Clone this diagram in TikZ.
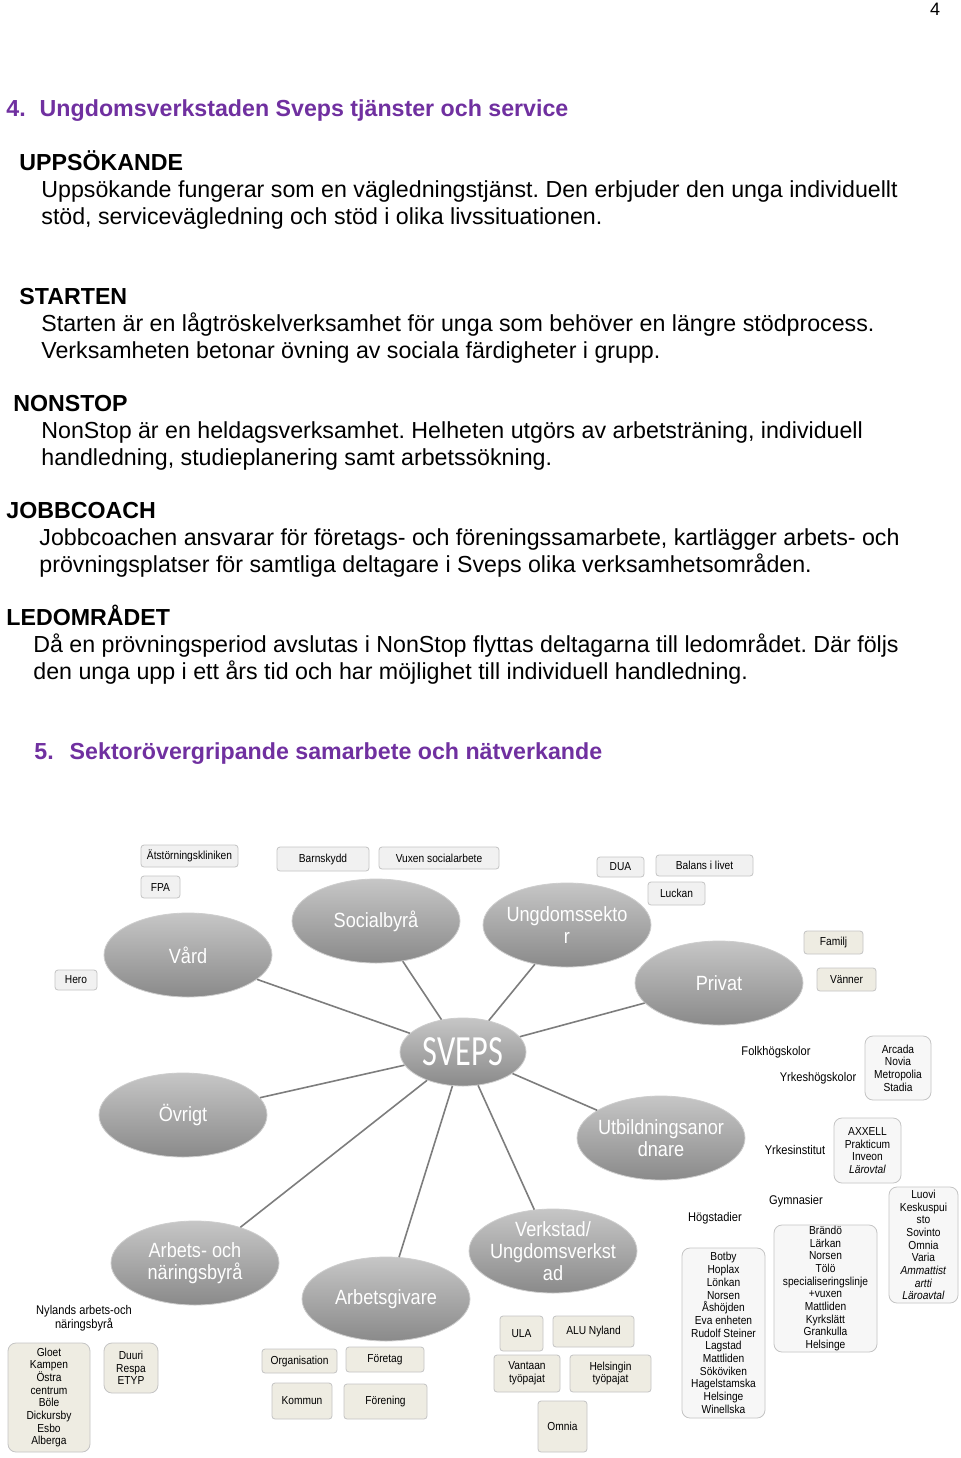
\documentclass[tikz,border=0pt]{standalone}
\usepackage{fontspec}
\setmainfont{Liberation Sans}
\newfontfamily\diafont[FakeStretch=0.88]{Liberation Sans}
\newfontfamily\svepsfont[FakeStretch=0.75]{Carlito}
\usetikzlibrary{shapes.geometric}
\definecolor{svepspurple}{RGB}{112,48,160}
\definecolor{ovaltop}{RGB}{198,198,198}
\definecolor{ovalbottom}{RGB}{138,138,138}
\definecolor{ovaledge}{RGB}{205,205,205}
\definecolor{spokegray}{RGB}{125,125,125}
\definecolor{boxgray}{RGB}{241,241,241}
\definecolor{boxbeige}{RGB}{238,236,226}
\definecolor{boxedge}{RGB}{196,196,196}
\definecolor{listfill}{RGB}{247,247,247}
\frenchspacing

\begin{document}
\begin{tikzpicture}[x=0.5pt, y=-0.5pt,
    every node/.style={inner sep=0pt},
    body/.style={anchor=base west, font=\fontsize{11.6}{13.5}\selectfont},
    head/.style={anchor=base west, font=\fontsize{11.6}{13.5}\selectfont\bfseries},
    title/.style={head, text=svepspurple},
    hubtext/.style={text=white, align=center, font=\diafont\fontsize{10.3}{11}\selectfont},
    hub/.style={ellipse, minimum width=84pt, minimum height=42pt,
      top color=ovaltop, bottom color=ovalbottom, draw=ovaledge,
      label={[hubtext]center:#1}},
    px/.style 2 args={minimum width=#1*0.5pt, minimum height=#2*0.5pt},
    leaf/.style={draw=boxedge, fill=boxgray, rounded corners=1.5pt, align=center,
      font=\diafont\fontsize{5.8}{6.35}\selectfont},
    beige/.style={leaf, fill=boxbeige},
    roster/.style={leaf, fill=listfill, rounded corners=4pt},
    tag/.style={align=center, font=\diafont\fontsize{6.3}{6.8}\selectfont},
    spoke/.style={draw=spokegray, line width=0.8pt}]
  \fill[white] (0,0) rectangle (960,1458);
  \useasboundingbox (0,0) rectangle (960,1458);

  % page text
  \node[anchor=base, font=\fontsize{9}{10}\selectfont] (pagenr) at (935,15) {4};
  \node[title] (h4) at (6,116) {4.\hspace{7pt}Ungdomsverkstaden Sveps tjänster och service};

  \node[head] (upps) at (19,170) {UPPSÖKANDE};
  \node[body] (upps1) at (41,197) {Uppsökande fungerar som en vägledningstjänst. Den erbjuder den unga individuellt};
  \node[body] (upps2) at (41,224) {stöd, servicevägledning och stöd i olika livssituationen.};

  \node[head] (start) at (19,304) {STARTEN};
  \node[body] (start1) at (41,331) {Starten är en lågtröskelverksamhet för unga som behöver en längre stödprocess.};
  \node[body] (start2) at (41,358) {Verksamheten betonar övning av sociala färdigheter i grupp.};

  \node[head] (nonstop) at (13,411) {NONSTOP};
  \node[body] (nonstop1) at (41,438) {NonStop är en heldagsverksamhet. Helheten utgörs av arbetsträning, individuell};
  \node[body] (nonstop2) at (41,465) {handledning, studieplanering samt arbetssökning.};

  \node[head] (coach) at (6,518) {JOBBCOACH};
  \node[body] (coach1) at (39,545) {Jobbcoachen ansvarar för företags- och föreningssamarbete, kartlägger arbets- och};
  \node[body] (coach2) at (39,572) {prövningsplatser för samtliga deltagare i Sveps olika verksamhetsområden.};

  \node[head] (led) at (6,625) {LEDOMRÅDET};
  \node[body] (led1) at (33,652) {Då en prövningsperiod avslutas i NonStop flyttas deltagarna till ledområdet. Där följs};
  \node[body] (led2) at (33,679) {den unga upp i ett års tid och har möjlighet till individuell handledning.};

  \node[title] (h5) at (34,759) {5.\hspace{8pt}Sektorövergripande samarbete och nätverkande};

  % hubs
  \node[ellipse, minimum width=63pt, minimum height=34pt, top color=ovaltop,
    bottom color=ovalbottom, draw=ovaledge,
    label={[text=white, font=\svepsfont\fontsize{21.5}{22}\selectfont]center:SVEPS}] (sveps) at (463,1052) {};
  \node[hub={Vård}] (vard) at (188,955) {};
  \node[hub={Socialbyrå}] (social) at (376,921) {};
  \node[hub={Ungdomssekto\\r}] (ungdom) at (567,925) {};
  \node[hub={Privat}] (privat) at (719,983) {};
  \node[hub={Övrigt}] (ovrigt) at (183,1115) {};
  \node[hub={Utbildningsanor\\dnare}] (utb) at (661,1138) {};
  \node[hub={Arbets- och\\näringsbyrå}] (ntb) at (195,1263) {};
  \node[hub={Arbetsgivare}] (arbg) at (386,1299) {};
  \node[hub={Verkstad/\\Ungdomsverkst\\ad}] (verk) at (553,1251) {};

  \foreach \h in {vard, social, ungdom, privat, ovrigt, utb, ntb, arbg, verk}
    \draw[spoke] (sveps) -- (\h);

  % small boxes
  \node[leaf, px={97}{22}] (atst) at (189.5,856) {Ätstörningskliniken};
  \node[leaf, px={39}{22}] (fpa) at (160.5,887) {FPA};
  \node[leaf, px={42}{20}] (hero) at (76,980) {Hero};
  \node[leaf, px={92}{24}] (barn) at (323,859) {Barnskydd};
  \node[leaf, px={120}{22}] (vuxen) at (439,858) {Vuxen socialarbete};
  \node[leaf, px={47}{20}] (dua) at (620.5,867) {DUA};
  \node[leaf, px={97}{21}] (balans) at (704.5,865.5) {Balans i livet};
  \node[leaf, px={57}{23}] (luckan) at (676.5,893.5) {Luckan};
  \node[beige, px={59}{23}] (familj) at (833.5,942.5) {Familj};
  \node[beige, px={59}{23}] (vanner) at (846.5,979.5) {Vänner};

  \node[tag] (folk) at (776,1052) {Folkhögskolor};
  \node[tag] (yrkh) at (818,1078) {Yrkeshögskolor};
  \node[roster, px={66}{64}] (amk) at (898,1068) {Arcada\\Novia\\Metropolia\\Stadia};
  \node[tag] (yrki) at (795,1150) {Yrkesinstitut};
  \node[roster, px={67}{65}] (yrkinst) at (867.5,1150.5) {AXXELL\\Prakticum\\Inveon\\\textit{Lärovtal}};
  \node[tag] (gymlab) at (796,1201) {Gymnasier};
  \node[tag] (hoglab) at (715,1218) {Högstadier};
  \node[roster, px={69}{116}] (luovi) at (923.5,1245) {Luovi\\Keskuspui\\sto\\Sovinto\\Omnia\\Varia\\\textit{Ammattist}\\\textit{artti}\\\textit{Läroavtal}};
  \node[roster, px={103}{127}] (gymn) at (825.5,1288.5) {Brändö\\Lärkan\\Norsen\\Tölö\\specialiseringslinje\\+vuxen\\Mattliden\\Kyrkslätt\\Grankulla\\Helsinge};
  \node[roster, px={83}{170}] (hogst) at (723.5,1333) {Botby\\Hoplax\\Lönkan\\Norsen\\Åshöjden\\Eva enheten\\Rudolf Steiner\\Lagstad\\Mattliden\\Sököviken\\Hagelstamska\\Helsinge\\Winellska};

  \node[tag] (nylands) at (84,1318) {Nylands arbets-och\\näringsbyrå};
  \node[beige, rounded corners=4pt, px={82}{109}] (gloet) at (49,1397.5) {Gloet\\Kampen\\Östra\\centrum\\Böle\\Dickursby\\Esbo\\Alberga};
  \node[beige, rounded corners=4pt, px={54}{50}] (duuri) at (131,1368) {Duuri\\Respa\\ETYP};

  \node[beige, px={75}{24}] (org) at (299.5,1361) {Organisation};
  \node[beige, px={78}{25}] (foretag) at (385,1359.5) {Företag};
  \node[beige, px={60}{36}] (kommun) at (302,1401) {Kommun};
  \node[beige, px={83}{35}] (forening) at (385.5,1401.5) {Förening};

  \node[beige, px={43}{35}] (ula) at (521.5,1333.5) {ULA};
  \node[beige, px={81}{31}] (alu) at (593.5,1331.5) {ALU Nyland};
  \node[beige, px={66}{37}] (vantaan) at (527,1373.5) {Vantaan\\työpajat};
  \node[beige, px={81}{37}] (helsingin) at (610.5,1373.5) {Helsingin\\työpajat};
  \node[beige, px={49}{51}] (omnia) at (562.5,1426.5) {Omnia};
\end{tikzpicture}
\end{document}
